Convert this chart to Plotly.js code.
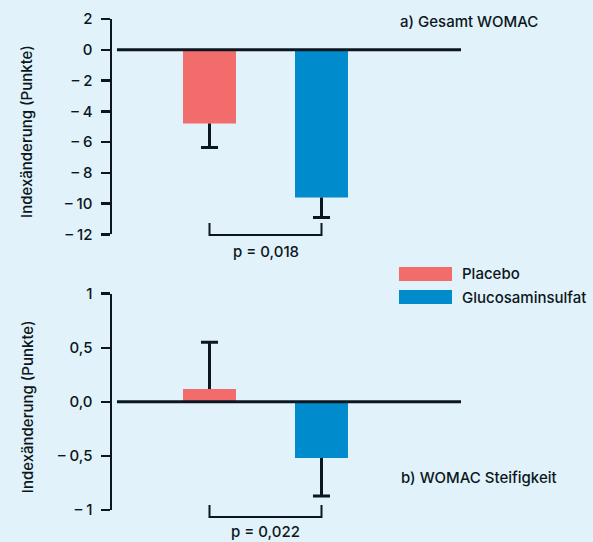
<!DOCTYPE html>
<html>
<head>
<meta charset="utf-8">
<script src="https://cdn.plot.ly/plotly-3.0.1.min.js"></script>
<style>
html,body{margin:0;padding:0;background:#e1f2fa;}
#chart{width:593px;height:542px;}
</style>
</head>
<body>
<div id="chart"></div>
<script>
// ---- data ----
const categories = ["Placebo", "Glucosaminsulfat"];
const totalValues = [-4.8, -9.6];          // a) Gesamt WOMAC
const totalErrors = [1.55, 1.3];
const stiffValues = [0.12, -0.52];         // b) WOMAC Steifigkeit
const stiffErrors = [0.43, 0.35];
const totalTickVals = [2, 0, -2, -4, -6, -8, -10, -12];
const totalTickText = ["2", "0", "– 2", "– 4", "– 6", "– 8", "– 10", "– 12"];
const stiffTickVals = [1, 0.5, 0, -0.5, -1];
const stiffTickText = ["1", "0,5", "0,0", "– 0,5", "– 1"];
const pTotal = "p = 0,018";
const pStiff = "p = 0,022";
const panelTitles = ["a) Gesamt WOMAC", "b) WOMAC Steifigkeit"];
const yTitle = "Indexänderung (Punkte)";

// ---- style ----
const colors = ["#f26c6c", "#008ccc"];
const dark = "#0c1620";
const bg = "#e1f2fa";
const fontFam = "Inter, 'Liberation Sans', Arial, sans-serif";
const fs = 15;
const fw = 500;
const xPos = categories.map((c, i) => i);
const capHalf = 0.076;
const barWidth = 0.473;
const xRange = [-0.8705, 2.2455];

function errTrace(vals, errs, yaxis) {
  const xs = [], ys = [];
  vals.forEach((v, i) => {
    const s = v >= 0 ? 1 : -1;
    const end = v + s * errs[i];
    xs.push(xPos[i], xPos[i], null, xPos[i] - capHalf, xPos[i] + capHalf, null);
    ys.push(v, end, null, end, end, null);
  });
  return {type: "scatter", mode: "lines", x: xs, y: ys, yaxis: yaxis, xaxis: "x",
    line: {color: dark, width: 3}, hoverinfo: "skip", showlegend: false, connectgaps: false};
}

const traces = [
  {type: "bar", x: xPos, y: totalValues, width: barWidth, marker: {color: colors, line: {width: 0}},
   xaxis: "x", yaxis: "y", showlegend: false, hoverinfo: "skip"},
  errTrace(totalValues, totalErrors, "y"),
  {type: "bar", x: xPos, y: stiffValues, width: barWidth, marker: {color: colors, line: {width: 0}},
   xaxis: "x", yaxis: "y2", showlegend: false, hoverinfo: "skip"},
  errTrace(stiffValues, stiffErrors, "y2")
];

const axisCommon = {
  showline: true, linecolor: dark, linewidth: 2.5,
  ticks: "outside", ticklen: 9, tickwidth: 2.5, tickcolor: dark,
  showgrid: false, zeroline: false, fixedrange: true,
  tickfont: {family: fontFam, size: fs, color: dark, weight: fw},
  ticklabelstandoff: 5
};

function bracket(yTop, yBot) {
  return {type: "path", xref: "x", yref: "paper",
    path: `M${xPos[0]},${yTop} L${xPos[0]},${yBot} L${xPos[1]},${yBot} L${xPos[1]},${yTop}`,
    line: {color: dark, width: 2}};
}

const tf = {size: fs, weight: fw, family: fontFam, color: dark};

const layout = {
  width: 593, height: 542,
  margin: {l: 112, r: 132, t: 19, b: 32},
  paper_bgcolor: bg, plot_bgcolor: bg,
  showlegend: false, barmode: "overlay",
  font: {family: fontFam, color: dark, size: fs, weight: fw},
  xaxis: {range: xRange, visible: false, fixedrange: true, anchor: "y2"},
  yaxis: Object.assign({}, axisCommon, {domain: [0.5615, 1], range: [-12, 2],
    tickvals: totalTickVals, ticktext: totalTickText, anchor: "x"}),
  yaxis2: Object.assign({}, axisCommon, {domain: [0, 0.4405], range: [-1, 1],
    tickvals: stiffTickVals, ticktext: stiffTickText, anchor: "x"}),
  shapes: [
    {type: "line", xref: "x", yref: "y", x0: -0.826, x1: xRange[1], y0: 0, y1: 0,
     line: {color: dark, width: 3}, layer: "above"},
    {type: "line", xref: "x", yref: "y2", x0: -0.826, x1: xRange[1], y0: 0, y1: 0,
     line: {color: dark, width: 3}, layer: "above"},
    bracket(0.5845, 0.5601),
    bracket(0.0102, -0.01426),
    {type: "rect", xref: "paper", yref: "paper", x0: 0.8223, x1: 0.9742, y0: 0.4664, y1: 0.4949,
     fillcolor: colors[0], line: {width: 0}},
    {type: "rect", xref: "paper", yref: "paper", x0: 0.8223, x1: 0.9742, y0: 0.4196, y1: 0.4481,
     fillcolor: colors[1], line: {width: 0}}
  ],
  annotations: [
    {xref: "paper", yref: "paper", x: 0.8195, y: 0.9939, xanchor: "left", yanchor: "middle",
     text: panelTitles[0], showarrow: false, font: tf},
    {xref: "paper", yref: "paper", x: 0.8223, y: 0.0652, xanchor: "left", yanchor: "middle",
     text: panelTitles[1], showarrow: false, font: tf},
    {xref: "paper", yref: "paper", x: 0.9971, y: 0.4807, xanchor: "left", yanchor: "middle",
     text: categories[0], showarrow: false, font: tf},
    {xref: "paper", yref: "paper", x: 0.9971, y: 0.4338, xanchor: "left", yanchor: "middle",
     text: categories[1], showarrow: false, font: tf},
    {xref: "x", yref: "paper", x: (xPos[0] + xPos[1]) / 2, y: 0.5255, xanchor: "center", yanchor: "middle",
     text: pTotal, showarrow: false, font: tf},
    {xref: "x", yref: "paper", x: (xPos[0] + xPos[1]) / 2, y: -0.0448, xanchor: "center", yanchor: "middle",
     text: pStiff, showarrow: false, font: tf},
    {xref: "paper", yref: "y domain", x: -0.2436, y: 0.48, xanchor: "center", yanchor: "middle",
     text: yTitle, textangle: -90, showarrow: false, font: tf},
    {xref: "paper", yref: "y2 domain", x: -0.2436, y: 0.48, xanchor: "center", yanchor: "middle",
     text: yTitle, textangle: -90, showarrow: false, font: tf}
  ]
};

Plotly.newPlot("chart", traces, layout, {displayModeBar: false, staticPlot: true});
</script>
</body>
</html>
